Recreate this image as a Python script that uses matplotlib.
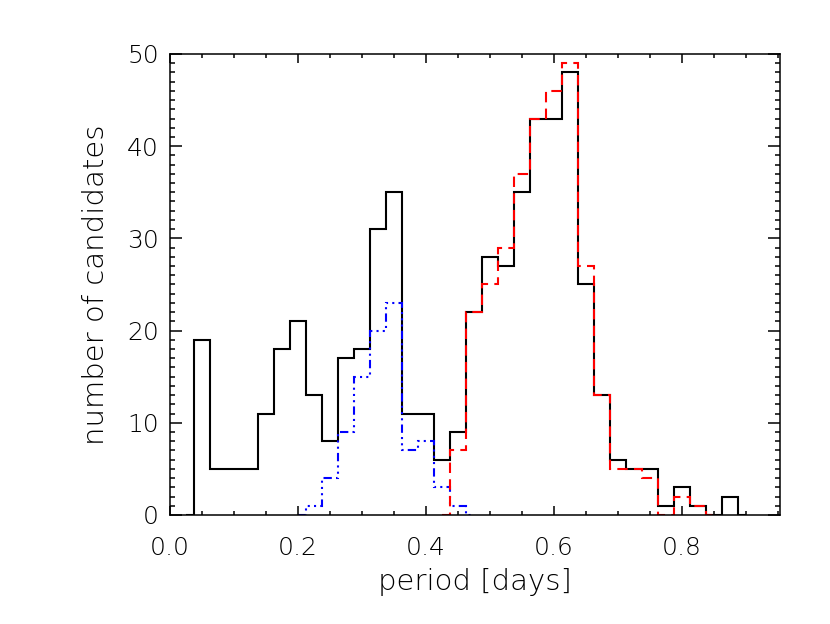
import matplotlib
matplotlib.use("Agg")
import matplotlib.pyplot as plt
import numpy as np
from matplotlib.ticker import MultipleLocator

# bin centres (days) and counts, IDL psym=10 style (half steps at the ends)
all_centers = np.arange(0.025, 0.9001, 0.025)
all_counts = [0, 19, 5, 5, 5, 11, 18, 21, 13, 8, 17, 18, 31, 35, 11, 11, 6, 9,
              22, 28, 27, 35, 43, 43, 48, 25, 13, 6, 5, 5, 1, 3, 1, 0, 2, 0]

short_centers = np.arange(0.2, 0.4751, 0.025)
short_counts = [0, 1, 4, 9, 15, 20, 23, 7, 8, 3, 1, 0]

long_centers = np.arange(0.425, 0.8501, 0.025)
long_counts = [0, 7, 22, 25, 29, 37, 43, 46, 49, 27, 13, 5, 5, 4, 0, 2, 1, 0]


def psym10_edges(centers):
    mids = (centers[1:] + centers[:-1]) / 2
    return np.concatenate([[centers[0]], mids, [centers[-1]]])


plt.rcParams["font.family"] = ["DejaVu Sans"]
plt.rcParams["font.weight"] = "light"

fig = plt.figure(figsize=(8.3, 6.24), dpi=100)
ax = fig.add_axes([0.2048, 0.1747, 0.735, 0.7388])

ax.stairs(all_counts, psym10_edges(all_centers), baseline=None,
          color="black", lw=1.5)
ax.stairs(short_counts, psym10_edges(short_centers), baseline=None,
          color="blue", lw=1.5, linestyle=(0, (4, 2, 1, 2, 1, 2, 1, 2)))
ax.stairs(long_counts, psym10_edges(long_centers), baseline=None,
          color="red", lw=1.5, linestyle=(0, (5, 3)))

ax.set_xlim(0, 0.953)
ax.set_ylim(0, 50)

ax.xaxis.set_major_locator(MultipleLocator(0.2))
ax.xaxis.set_minor_locator(MultipleLocator(0.05))
ax.yaxis.set_major_locator(MultipleLocator(10))
ax.yaxis.set_minor_locator(MultipleLocator(1))
ax.xaxis.set_major_formatter(lambda v, p: f"{v:.1f}")

ax.tick_params(which="both", direction="in", top=True, right=True,
               width=1.1, labelsize=18)
ax.tick_params(axis="x", which="major", length=6.5, pad=15)
ax.tick_params(axis="x", which="minor", length=3)
ax.tick_params(axis="y", which="major", length=8.6, pad=8)
ax.tick_params(axis="y", which="minor", length=3.6)
for s in ax.spines.values():
    s.set_linewidth(1.1)

ax.set_xlabel("period [days]", fontsize=21, fontweight="light", labelpad=6)
ax.set_ylabel("number of candidates", fontsize=21, fontweight="light",
              labelpad=12)

fig.canvas.draw()
ylabels = ax.get_yticklabels()
ylabels[0].set_va("bottom")
ylabels[-1].set_va("top")

fig.savefig("out.png", dpi=100)
